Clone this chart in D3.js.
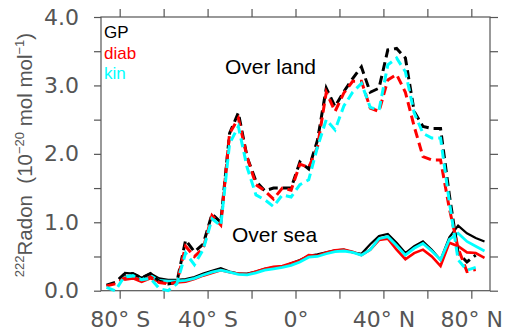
<!DOCTYPE html>
<html>
<head>
<meta charset="utf-8">
<script src="https://cdn.jsdelivr.net/npm/d3@7"></script>
<style>
  body { margin: 0; background: #fff; }
  svg { display: block; }
  .tick text { font-family: "DejaVu Sans", sans-serif; fill: #555; }
</style>
</head>
<body>
<div id="chart"></div>
<script>
// latitude grid (deg), 4 deg steps
const lats = d3.range(-86, 87, 4);

// land, dashed
const gpLand = [0.08, 0.12, 0.24, 0.25, 0.19, 0.25, 0.14, 0.10, 0.12, 0.74, 0.57, 0.68, 1.12, 1.00, 2.30, 2.60, 1.95, 1.60, 1.46, 1.50, 1.50, 1.50, 1.88, 1.78, 2.20, 2.96, 2.69, 2.91, 3.10, 3.27, 2.90, 2.96, 3.52, 3.54, 3.40, 2.62, 2.40, 2.37, 2.37, 1.40, 0.55, 0.42, 0.52, null];
const diabLand = [0.07, 0.10, 0.18, 0.20, 0.14, 0.20, 0.12, 0.10, 0.12, 0.65, 0.50, 0.62, 1.10, 0.96, 2.30, 2.52, 1.95, 1.55, 1.46, 1.34, 1.50, 1.47, 1.85, 1.80, 2.10, 2.90, 2.62, 2.89, 3.06, 3.06, 2.67, 2.62, 3.08, 3.16, 2.90, 2.40, 1.96, 1.91, 1.91, 1.20, 0.62, 0.28, 0.31, null];
const kinLand = [0.05, 0.00, 0.20, 0.22, 0.16, 0.18, 0.03, 0.00, 0.10, 0.55, 0.38, 0.60, 1.05, 0.95, 2.15, 2.40, 1.80, 1.40, 1.33, 1.23, 1.40, 1.37, 1.55, 1.62, 2.10, 2.50, 2.35, 2.70, 2.90, 3.03, 2.68, 2.64, 3.30, 3.40, 3.20, 2.60, 2.30, 2.23, 2.23, 1.30, 0.45, 0.30, 0.34, null];

// sea, solid
const gpSea = [null, null, 0.26, 0.25, 0.19, 0.25, 0.18, 0.16, 0.16, 0.17, 0.20, 0.25, 0.29, 0.33, 0.28, 0.25, 0.25, 0.28, 0.32, 0.34, 0.35, 0.40, 0.45, 0.51, 0.53, 0.56, 0.59, 0.60, 0.56, 0.54, 0.68, 0.80, 0.83, 0.70, 0.55, 0.65, 0.72, 0.60, 0.45, 0.78, 0.95, 0.84, 0.77, 0.72];
const diabSea = [null, null, 0.16, 0.18, 0.13, 0.18, 0.13, 0.12, 0.12, 0.13, 0.17, 0.22, 0.26, 0.30, 0.27, 0.25, 0.24, 0.28, 0.32, 0.35, 0.36, 0.40, 0.44, 0.52, 0.51, 0.56, 0.59, 0.60, 0.57, 0.52, 0.60, 0.74, 0.76, 0.60, 0.46, 0.55, 0.60, 0.50, 0.36, 0.70, 0.65, 0.56, 0.55, 0.48];
const kinSea = [null, null, 0.20, 0.22, 0.16, 0.22, 0.15, 0.14, 0.14, 0.15, 0.18, 0.23, 0.27, 0.30, 0.27, 0.24, 0.23, 0.26, 0.30, 0.32, 0.34, 0.37, 0.42, 0.49, 0.50, 0.54, 0.57, 0.58, 0.56, 0.52, 0.60, 0.76, 0.79, 0.66, 0.52, 0.62, 0.69, 0.58, 0.45, 0.75, 0.84, 0.72, 0.65, 0.58];

const latTicks = [-80, -60, -40, -20, 0, 20, 40, 60, 80];
const latLabels = { "-80": "80° S", "-40": "40° S", "0": "0°", "40": "40° N", "80": "80° N" };
const yTicks = [0, 0.5, 1, 1.5, 2, 2.5, 3, 3.5, 4];

const width = 507, height = 333;
const m = { left: 101, right: 490, top: 17, bottom: 290.7 };

const svg = d3.select("#chart").append("svg")
  .attr("width", width).attr("height", height);

const x = d3.scaleLinear().domain([-88.5, 88.5]).range([m.left, m.right]);
const y = d3.scaleLinear().domain([0, 4]).range([m.bottom, m.top]);

const axisColor = "#555";
function styleAxis(g) {
  g.select(".domain").remove();
  g.selectAll(".tick line").attr("stroke", axisColor).attr("stroke-width", 1.2);
}

// bottom
svg.append("g")
  .attr("transform", `translate(0,${m.bottom})`)
  .call(d3.axisBottom(x).tickValues(latTicks).tickSize(8).tickPadding(13)
    .tickFormat(d => latLabels[d] || ""))
  .call(styleAxis)
  .selectAll("text").attr("font-size", 22);

// top
svg.append("g")
  .attr("transform", `translate(0,${m.top})`)
  .call(d3.axisTop(x).tickValues(latTicks).tickSize(8).tickFormat(""))
  .call(styleAxis);

// left
svg.append("g")
  .attr("transform", `translate(${m.left},0)`)
  .call(d3.axisLeft(y).tickValues(yTicks).tickSize(7).tickPadding(15)
    .tickFormat(d => Number.isInteger(d) ? d3.format(".1f")(d) : ""))
  .call(styleAxis)
  .selectAll("text").attr("font-size", 22);

// right
svg.append("g")
  .attr("transform", `translate(${m.right},0)`)
  .call(d3.axisRight(y).tickValues(yTicks).tickSize(8).tickFormat(""))
  .call(styleAxis);

// frame
svg.append("rect")
  .attr("x", m.left).attr("y", m.top)
  .attr("width", m.right - m.left).attr("height", m.bottom - m.top)
  .attr("fill", "none").attr("stroke", axisColor).attr("stroke-width", 1.2);

const line = d3.line()
  .defined(d => d[1] !== null)
  .x(d => x(d[0]))
  .y(d => y(d[1]));

const series = [
  { v: gpSea, color: "#000", dash: null, w: 2.2 },
  { v: diabSea, color: "#ff0000", dash: null, w: 2.6 },
  { v: kinSea, color: "#00ffff", dash: null, w: 2.8 },
  { v: gpLand, color: "#000", dash: "9,5", w: 3 },
  { v: diabLand, color: "#ff0000", dash: "9,5", w: 3 },
  { v: kinLand, color: "#00ffff", dash: "9,5", w: 3 }
];

for (const s of series) {
  svg.append("path")
    .datum(lats.map((lat, i) => [lat, s.v[i]]))
    .attr("fill", "none")
    .attr("stroke", s.color)
    .attr("stroke-width", s.w)
    .attr("stroke-dasharray", s.dash)
    .attr("stroke-linejoin", "miter")
    .attr("d", line);
}

// legend
const legend = [["GP", "#000"], ["diab", "#ff0000"], ["kin", "#00ffff"]];
legend.forEach((d, i) => {
  svg.append("text")
    .attr("x", 104).attr("y", 38 + i * 20.5)
    .attr("font-family", "Liberation Sans, Arial, sans-serif")
    .attr("font-size", 17)
    .attr("fill", d[1])
    .text(d[0]);
});

// annotations
svg.append("text")
  .attr("x", 225).attr("y", 73.5)
  .attr("font-family", "Liberation Sans, Arial, sans-serif")
  .attr("font-size", 21)
  .text("Over land");
svg.append("text")
  .attr("x", 232).attr("y", 241.5)
  .attr("font-family", "Liberation Sans, Arial, sans-serif")
  .attr("font-size", 21)
  .text("Over sea");

// y title
const title = svg.append("text")
  .attr("transform", "translate(32,155) rotate(-90)")
  .attr("text-anchor", "middle")
  .attr("font-family", "Liberation Sans, Arial, sans-serif")
  .attr("font-size", 20.5)
  .attr("fill", "#555")
  .style("white-space", "pre");
title.append("tspan").attr("font-size", 13).attr("dy", -8).text("222");
title.append("tspan").attr("dy", 8).text("Radon  (10");
title.append("tspan").attr("font-size", 13).attr("dy", -8).text("−20");
title.append("tspan").attr("dy", 8).text(" mol mol");
title.append("tspan").attr("font-size", 13).attr("dy", -8).text("−1");
title.append("tspan").attr("dy", 8).text(")");
</script>
</body>
</html>
